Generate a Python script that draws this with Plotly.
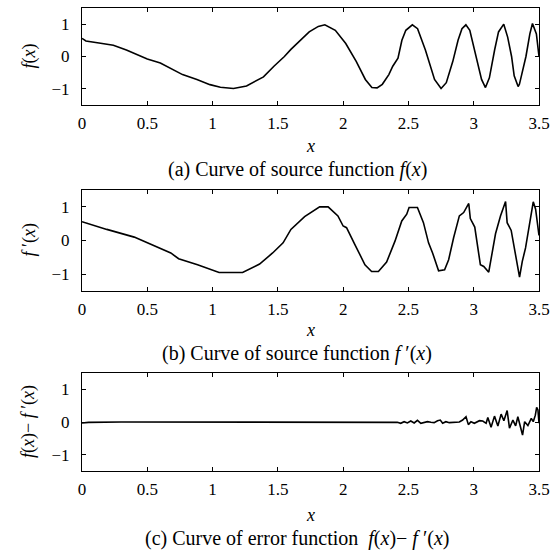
import plotly.graph_objects as go

# ---------------- data ----------------
fa_x = [0, 0.03, 0.13, 0.24, 0.34, 0.42, 0.50, 0.60, 0.67, 0.77, 0.88, 0.98, 1.06, 1.16, 1.26,
        1.39, 1.47, 1.55, 1.60, 1.66, 1.74, 1.81, 1.86, 1.94, 2.02, 2.10, 2.17, 2.22, 2.26, 2.30,
        2.35, 2.38, 2.42, 2.45, 2.48, 2.53, 2.57, 2.63, 2.70, 2.75, 2.79, 2.84, 2.88, 2.91, 2.94,
        2.97, 3.02, 3.06, 3.09, 3.12, 3.16, 3.19, 3.23, 3.26, 3.29, 3.31, 3.34, 3.35, 3.40, 3.43,
        3.45, 3.48, 3.50]
fa_y = [0.56, 0.48, 0.42, 0.35, 0.20, 0.07, -0.08, -0.20, -0.35, -0.56, -0.71, -0.87, -0.95, -0.99, -0.91,
        -0.63, -0.30, 0.0, 0.22, 0.45, 0.76, 0.93, 0.98, 0.81, 0.40, -0.15, -0.71, -0.96, -0.97, -0.86,
        -0.56, -0.30, -0.05, 0.50, 0.81, 0.98, 0.86, 0.20, -0.71, -0.99, -0.81, -0.15, 0.50, 0.86, 0.98,
        0.81, 0.0, -0.71, -0.96, -0.66, 0.20, 0.76, 1.00, 0.60, 0.0, -0.60, -0.93, -0.86, 0.0, 0.70,
        1.02, 0.70, 0.0]

fb_x = [0, 0.19, 0.40, 0.525, 0.68, 0.74, 0.885, 1.05, 1.23, 1.36, 1.46, 1.54, 1.60, 1.705, 1.756,
        1.82, 1.885, 1.96, 2.0, 2.026, 2.09, 2.167, 2.218, 2.27, 2.333, 2.397, 2.449, 2.487, 2.505,
        2.569, 2.615, 2.654, 2.685, 2.731, 2.777, 2.808, 2.846, 2.89, 2.923, 2.962, 2.974, 3.008,
        3.051, 3.077, 3.115, 3.167, 3.205, 3.244, 3.256, 3.287, 3.351, 3.372, 3.397, 3.456, 3.474, 3.50]
fb_y = [0.56, 0.33, 0.10, -0.12, -0.37, -0.54, -0.72, -0.95, -0.95, -0.70, -0.37, -0.07, 0.33, 0.71, 0.83,
        1.0, 1.0, 0.73, 0.43, 0.38, -0.12, -0.72, -0.92, -0.92, -0.64, -0.02, 0.58, 0.78, 0.98,
        0.98, 0.53, -0.07, -0.37, -0.90, -0.87, -0.57, 0.08, 0.73, 0.83, 1.10, 0.65, 0.40,
        -0.72, -0.77, -0.94, 0.20, 0.73, 1.16, 0.53, 0.30, -1.09, -0.62, -0.22, 1.15, 0.93, 0.15]

fc_x = [0, 0.05, 0.3, 1.0, 2.0, 2.39, 2.415, 2.441, 2.467, 2.492, 2.518, 2.544, 2.569, 2.595, 2.621,
        2.646, 2.672, 2.697, 2.723, 2.744, 2.762, 2.787, 2.813, 2.838, 2.864, 2.89, 2.915, 2.941,
        2.959, 2.979, 3.005, 3.044, 3.069, 3.095, 3.108, 3.133, 3.159, 3.185, 3.21, 3.231, 3.256,
        3.274, 3.30, 3.321, 3.338, 3.359, 3.374, 3.39, 3.415, 3.441, 3.456, 3.472, 3.482, 3.492, 3.50]
fc_y = [-0.03, -0.01, 0.0, 0.0, 0.0, 0.0, -0.01, -0.04, 0.01, -0.03, 0.03, -0.03, 0.05, -0.04, -0.01,
        0.01, -0.01, -0.02, 0.04, 0.06, -0.04, 0.01, -0.02, -0.01, -0.02, 0.0, 0.06, 0.16,
        -0.08, 0.01, -0.04, 0.04, 0.03, -0.04, 0.14, -0.16, 0.18, -0.12, 0.24, 0.04, 0.35,
        -0.19, 0.06, -0.12, 0.16, -0.14, -0.40, 0.01, -0.11, 0.11, 0.01, 0.21, 0.45, 0.37, -0.04]

x_tickvals = [0, 0.5, 1, 1.5, 2, 2.5, 3, 3.5]
x_ticktext = ["0", "0.5", "1", "1.5", "2", "2.5", "3", "3.5"]
y_tickvals = [-1, 0, 1]

y_titles = ["<i>f</i>(<i>x</i>)", "<i>f</i> \u2032(<i>x</i>)", "<i>f</i>(<i>x</i>)\u2212 <i>f</i> \u2032(<i>x</i>)"]
captions = ["(a) Curve of source function <i>f</i>(<i>x</i>)",
            "(b) Curve of source function <i>f</i> \u2032(<i>x</i>)",
            "(c) Curve of error function  <i>f</i>(<i>x</i>)\u2212 <i>f</i> \u2032(<i>x</i>)"]

# ---------------- layout geometry (pixels) ----------------
W, H = 560, 554
FONT = "Liberation Serif"
x_left, x_right = 82, 539
panels = [(8, 105), (190, 291), (373, 471)]  # top, bottom pixel rows
xtitle_px = [146, 330, 515]
caption_px = [169, 353, 538]

def py(p):
    return 1 - p / H

fig = go.Figure()
series = [(fa_x, fa_y), (fb_x, fb_y), (fc_x, fc_y)]
annotations = []
for i, ((xs, ys), (top, bot)) in enumerate(zip(series, panels)):
    n = "" if i == 0 else str(i + 1)
    fig.add_trace(go.Scatter(x=xs, y=ys, mode="lines", line=dict(color="black", width=1.6),
                             xaxis="x" + n, yaxis="y" + n, showlegend=False, hoverinfo="skip"))
    common = dict(showline=True, linecolor="black", linewidth=1.2, mirror="ticks",
                  ticks="inside", ticklen=4, tickwidth=1, tickcolor="black",
                  showgrid=False, zeroline=False, automargin=False,
                  tickfont=dict(family=FONT, size=17, color="black"))
    fig.layout["xaxis" + n] = dict(domain=[x_left / W, x_right / W], range=[0, 3.5],
                                   anchor="y" + n, tickvals=x_tickvals, ticktext=x_ticktext,
                                   ticklabelstandoff=2, **common)
    fig.layout["yaxis" + n] = dict(domain=[py(bot), py(top)], range=[-1.5, 1.5],
                                   anchor="x" + n, tickvals=y_tickvals,
                                   ticklabelstandoff=8, **common)
    annotations.append(dict(text="<i>x</i>", x=(x_left + x_right) / 2 / W, y=py(xtitle_px[i]),
                            xref="paper", yref="paper", showarrow=False, xanchor="center",
                            yanchor="middle", font=dict(family=FONT, size=18, color="black")))
    annotations.append(dict(text=captions[i], x=297 / W, y=py(caption_px[i]),
                            xref="paper", yref="paper", showarrow=False, xanchor="center",
                            yanchor="middle", font=dict(family=FONT, size=20, color="black")))
    annotations.append(dict(text=y_titles[i], x=29 / W, y=py((top + bot) / 2),
                            xref="paper", yref="paper", showarrow=False, textangle=-90,
                            xanchor="center", yanchor="middle",
                            font=dict(family=FONT, size=18, color="black")))

fig.update_layout(template="none", width=W, height=H, margin=dict(l=0, r=0, t=0, b=0),
                  font=dict(family=FONT, size=17, color="black"),
                  paper_bgcolor="white", plot_bgcolor="white", annotations=annotations)

fig.write_html("out.html", config={"displayModeBar": False},
               post_script="document.body.style.margin='0';")
